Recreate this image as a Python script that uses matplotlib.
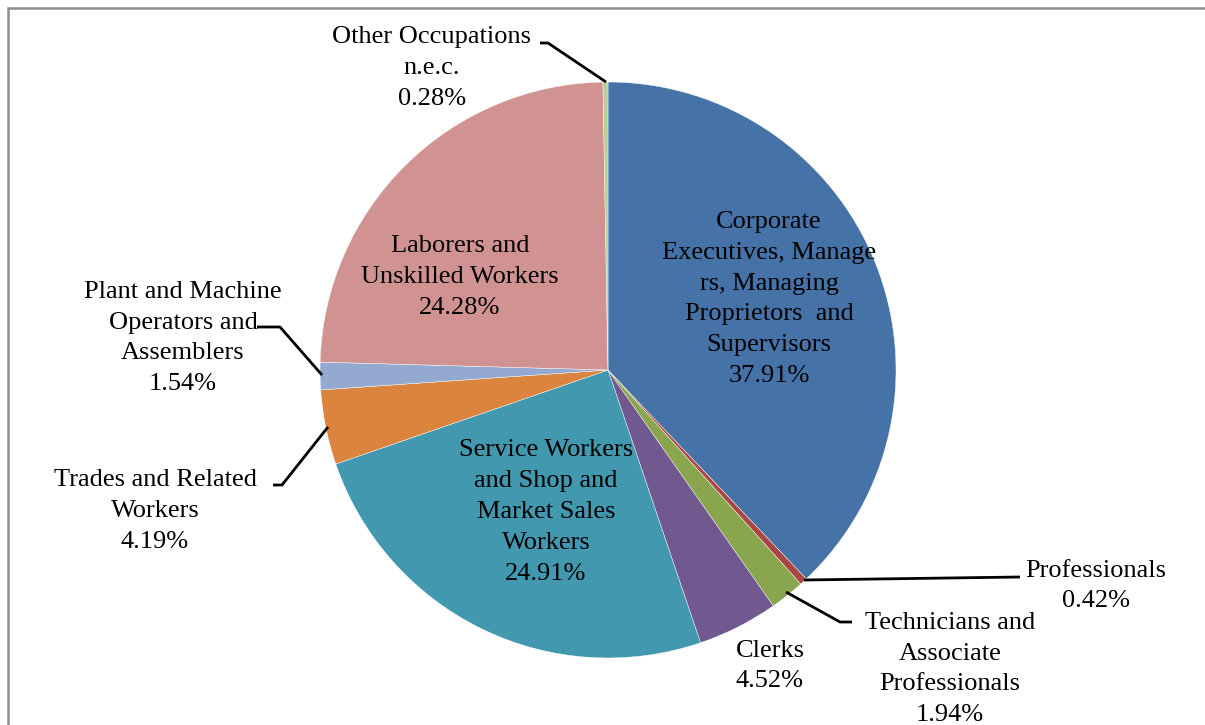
import matplotlib
matplotlib.use("Agg")
import matplotlib.pyplot as plt
from matplotlib.patches import Rectangle

# data (clockwise from 12 o'clock)
occupations = ["Corporate Executives, Managers, Managing Proprietors and Supervisors",
               "Professionals", "Technicians and Associate Professionals", "Clerks",
               "Service Workers and Shop and Market Sales Workers",
               "Trades and Related Workers", "Plant and Machine Operators and Assemblers",
               "Laborers and Unskilled Workers", "Other Occupations n.e.c."]
shares = [37.91, 0.42, 1.94, 4.52, 24.91, 4.19, 1.54, 24.28, 0.28]
colors = ["#4572A7", "#AA4643", "#89A54E", "#71588F", "#4198AF",
          "#DB843D", "#93A9CF", "#D19392", "#B9CD96"]

# label texts as wrapped in the chart
label_text = ["Corporate\nExecutives, Manage\nrs, Managing\nProprietors  and\nSupervisors",
              "Professionals", "Technicians and\nAssociate\nProfessionals", "Clerks",
              "Service Workers\nand Shop and\nMarket Sales\nWorkers",
              "Trades and Related\nWorkers", "Plant and Machine\nOperators and\nAssemblers",
              "Laborers and\nUnskilled Workers", "Other Occupations\nn.e.c."]

W, H = 1205, 725
def Y(y):
    return H - y

fig = plt.figure(figsize=(W / 100, H / 100), dpi=100)
ax = fig.add_axes([0, 0, 1, 1])

ax.pie(shares, colors=colors, startangle=90, counterclock=False,
       center=(608, Y(370)), radius=288, frame=True,
       wedgeprops=dict(edgecolor="white", linewidth=0.3))
ax.set_xlim(0, W)
ax.set_ylim(0, H)
ax.set_aspect("equal")
ax.axis("off")

# chart frame
ax.add_patch(Rectangle((7.5, -20), 1400, Y(8) + 20, fill=False,
                       edgecolor="#8c8c8c", lw=1.8, zorder=5))

font = dict(family="Liberation Serif", fontsize=19, linespacing=1.52,
            ha="center", va="center", color="black")

# label anchor centres (pixel positions)
label_pos = [(769, 299), (1096, 586), (950, 669), (770, 666), (546, 512),
             (155, 511), (183, 338), (460, 277), (432, 68)]
for txt, val, (x, y) in zip(label_text, shares, label_pos):
    ax.text(x, Y(y), "%s\n%.2f%%" % (txt, val), **font)

# leader lines
leaders = [
    [(540, 43), (548, 43), (606, 82)],
    [(257, 327), (280, 327), (322, 375)],
    [(273, 485), (282, 485), (328, 427)],
    [(804, 580), (1020, 577)],
    [(786, 592), (840, 622), (852, 622)],
]
for pts in leaders:
    ax.plot([p[0] for p in pts], [Y(p[1]) for p in pts], color="black", lw=2,
            solid_capstyle="butt", zorder=4)

fig.savefig("out.png", dpi=100)
